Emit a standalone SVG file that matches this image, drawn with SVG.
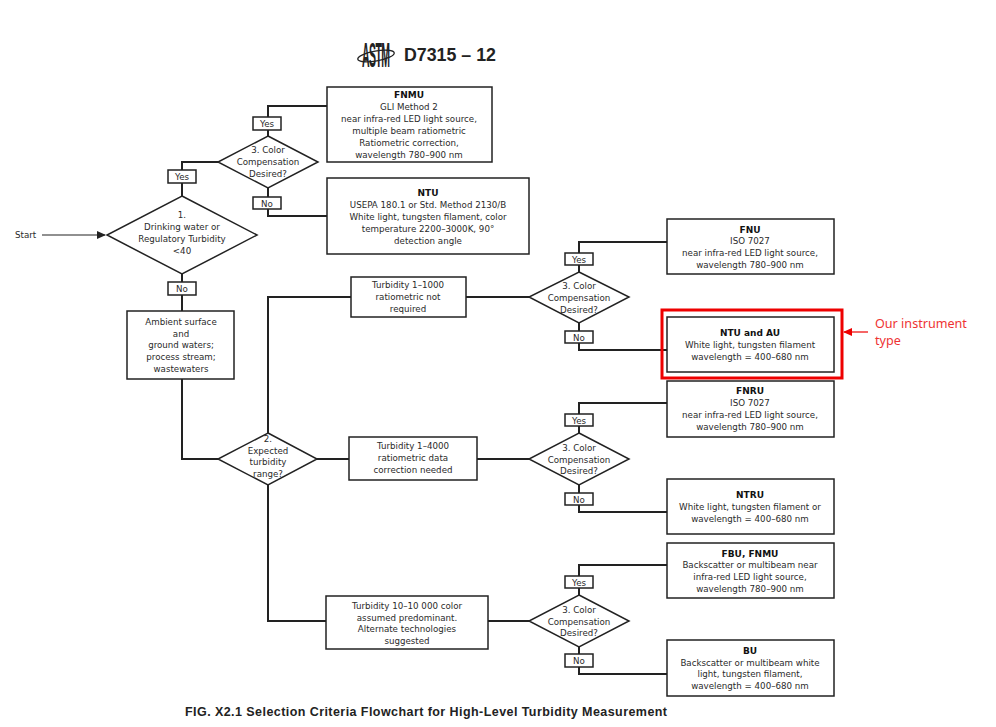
<svg xmlns="http://www.w3.org/2000/svg" width="996" height="727" viewBox="0 0 996 727">
<style>
.b{fill:#fff;stroke:#222;stroke-width:1.5}
.c{fill:none;stroke:#222;stroke-width:2}
.t{font-family:"DejaVu Sans",sans-serif;font-size:8.7px;fill:#2a2a2a;text-anchor:middle}
.h{font-family:"DejaVu Sans",sans-serif;font-size:9px;font-weight:700;fill:#111;text-anchor:middle}
</style>
<defs><marker id="a" markerWidth="9" markerHeight="8" refX="8" refY="4" orient="auto" markerUnits="userSpaceOnUse"><path d="M0 0L9 4L0 8z" fill="#222"/></marker>
<marker id="r" markerWidth="9" markerHeight="8" refX="8" refY="4" orient="auto" markerUnits="userSpaceOnUse"><path d="M0 0L9 4L0 8z" fill="#e00"/></marker></defs>
<rect width="996" height="727" fill="#fff"/>
<g id="header">
<text font-family="Liberation Sans,sans-serif" font-size="10.500" font-weight="700" text-anchor="middle" fill="#222" transform="translate(376 67) scale(1 3.4)" textLength="28">ASTM</text>
<ellipse cx="376" cy="56" rx="18.500" ry="5" fill="none" stroke="#222" stroke-width="1.300" transform="rotate(-10 376 56)"/>
<text x="404" y="61" font-family="Liberation Sans,sans-serif" font-size="17.800" font-weight="700" fill="#222">D7315 – 12</text>
</g>
<g id="connectors" class="c">
<path class="c" d="M218 162H182V196"/>
<path class="c" d="M268 136V106H327"/>
<path class="c" d="M268 188V216H327" />
<path class="c" d="M182 274V311"/>
<path class="c" d="M182 379V459H218"/>
<path class="c" d="M268 433V297H351"/>
<path class="c" d="M466 297H529"/>
<path class="c" d="M317 459H349"/>
<path class="c" d="M477 459H529"/>
<path class="c" d="M268 485V621H326"/>
<path class="c" d="M488 621H529"/>
<path class="c" d="M579 272V242H667"/>
<path class="c" d="M579 323V350H667"/>
<path class="c" d="M579 433V403H667"/>
<path class="c" d="M579 485V512H667"/>
<path class="c" d="M579 595V565H667"/>
<path class="c" d="M579 647V674H667"/>
<path d="M42 235H105" fill="none" stroke="#222" stroke-width="1.2" marker-end="url(#a)"/>
</g>
<g id="start"><text x="15" y="238" font-family="DejaVu Sans,sans-serif" font-size="8.7" fill="#2a2a2a">Start</text></g>
<g id="d1"><polygon class="b" points="182,196 257,235 182,274 107,235"/><text class="t" x="182" y="218">1.</text><text class="t" x="182" y="230">Drinking water or</text><text class="t" x="182" y="242">Regulatory Turbidity</text><text class="t" x="182" y="254">&lt;40</text></g>
<g id="yes1"><rect class="b" x="168" y="170" width="28" height="13"/><text class="t" x="182" y="180">Yes</text></g>
<g id="no1"><rect class="b" x="168" y="282" width="28" height="13"/><text class="t" x="182" y="292">No</text></g>
<g id="d3a"><polygon class="b" points="268,136 318,162 268,188 218,162"/><text class="t" x="268" y="153">3. Color</text><text class="t" x="268" y="165">Compensation</text><text class="t" x="268" y="177">Desired?</text></g>
<g id="yes3a"><rect class="b" x="253" y="117" width="28" height="13"/><text class="t" x="267" y="127">Yes</text></g>
<g id="no3a"><rect class="b" x="253" y="197" width="28" height="12"/><text class="t" x="267" y="207">No</text></g>
<g id="fnmu"><rect class="b" x="327" y="87" width="165" height="75"/><text class="h" x="409" y="98">FNMU</text><text class="t" x="409" y="110">GLI Method 2</text><text class="t" x="409" y="122">near infra-red LED light source,</text><text class="t" x="409" y="134">multiple beam ratiometric</text><text class="t" x="409" y="146">Ratiometric correction,</text><text class="t" x="409" y="157.500">wavelength 780–900 nm</text></g>
<g id="ntu"><rect class="b" x="327" y="178" width="202" height="76"/><text class="h" x="428" y="196">NTU</text><text class="t" x="428" y="208">USEPA 180.1 or Std. Method 2130/B</text><text class="t" x="428" y="220">White light, tungsten filament, color</text><text class="t" x="428" y="232">temperature 2200–3000K, 90°</text><text class="t" x="428" y="244">detection angle</text></g>
<g id="ambient"><rect class="b" x="127" y="311" width="107" height="68"/><text class="t" x="181" y="325">Ambient surface</text><text class="t" x="181" y="336.500">and</text><text class="t" x="181" y="348">ground waters;</text><text class="t" x="181" y="360">process stream;</text><text class="t" x="181" y="372">wastewaters</text></g>
<g id="d2"><polygon class="b" points="268,433 317,459 268,485 218,459"/><text class="t" x="268" y="442">2.</text><text class="t" x="268" y="453.500">Expected</text><text class="t" x="268" y="465">turbidity</text><text class="t" x="268" y="477">range?</text></g>
<g id="t1000"><rect class="b" x="351" y="277" width="115" height="40"/><text class="t" x="408" y="288">Turbidity 1–1000</text><text class="t" x="408" y="300">ratiometric not</text><text class="t" x="408" y="312">required</text></g>
<g id="t4000"><rect class="b" x="349" y="437" width="128" height="43"/><text class="t" x="413" y="449">Turbidity 1–4000</text><text class="t" x="413" y="461">ratiometric data</text><text class="t" x="413" y="473">correction needed</text></g>
<g id="t10000"><rect class="b" x="326" y="596" width="162" height="53"/><text class="t" x="407" y="609">Turbidity 10–10 000 color</text><text class="t" x="407" y="620.500">assumed predominant.</text><text class="t" x="407" y="632">Alternate technologies</text><text class="t" x="407" y="644">suggested</text></g>
<g id="d3b"><polygon class="b" points="579,272 629,297 579,323 529,297"/><text class="t" x="579" y="289">3. Color</text><text class="t" x="579" y="301">Compensation</text><text class="t" x="579" y="312.500">Desired?</text></g>
<g id="yes3b"><rect class="b" x="565" y="253" width="28" height="12"/><text class="t" x="579" y="262.500">Yes</text></g>
<g id="no3b"><rect class="b" x="565" y="331" width="28" height="12"/><text class="t" x="579" y="340.500">No</text></g>
<g id="fnu"><rect class="b" x="667" y="219" width="167" height="55"/><text class="h" x="750" y="232.500">FNU</text><text class="t" x="750" y="244">ISO 7027</text><text class="t" x="750" y="256">near infra-red LED light source,</text><text class="t" x="750" y="268">wavelength 780–900 nm</text></g>
<g id="ntuau"><rect class="b" x="667" y="317" width="167" height="55"/><text class="h" x="750" y="336">NTU and AU</text><text class="t" x="750" y="348">White light, tungsten filament</text><text class="t" x="750" y="360">wavelength = 400–680 nm</text></g>
<g id="highlight"><rect x="662" y="310" width="180" height="68" fill="none" stroke="#e00" stroke-width="3"/><path d="M868 332H844" fill="none" stroke="#e00" stroke-width="1.200" marker-end="url(#r)"/><text x="875" y="328" font-family="Noto Sans,sans-serif" font-size="12.600" fill="#e33">Our instrument</text><text x="875" y="345" font-family="Noto Sans,sans-serif" font-size="12.600" fill="#e33">type</text></g>
<g id="d3c"><polygon class="b" points="579,433 629,459 579,485 529,459"/><text class="t" x="579" y="451">3. Color</text><text class="t" x="579" y="462.500">Compensation</text><text class="t" x="579" y="474">Desired?</text></g>
<g id="yes3c"><rect class="b" x="565" y="414" width="28" height="12"/><text class="t" x="579" y="423.500">Yes</text></g>
<g id="no3c"><rect class="b" x="565" y="493" width="28" height="12"/><text class="t" x="579" y="502.500">No</text></g>
<g id="fnru"><rect class="b" x="667" y="381" width="167" height="56"/><text class="h" x="750" y="394">FNRU</text><text class="t" x="750" y="406">ISO 7027</text><text class="t" x="750" y="418">near infra-red LED light source,</text><text class="t" x="750" y="430">wavelength 780–900 nm</text></g>
<g id="ntru"><rect class="b" x="667" y="479" width="167" height="55"/><text class="h" x="750" y="498">NTRU</text><text class="t" x="750" y="510">White light, tungsten filament or</text><text class="t" x="750" y="521.500">wavelength = 400–680 nm</text></g>
<g id="d3d"><polygon class="b" points="579,595 629,621 579,647 529,621"/><text class="t" x="579" y="613">3. Color</text><text class="t" x="579" y="624.500">Compensation</text><text class="t" x="579" y="636">Desired?</text></g>
<g id="yes3d"><rect class="b" x="565" y="576" width="28" height="12"/><text class="t" x="579" y="585.500">Yes</text></g>
<g id="no3d"><rect class="b" x="565" y="654" width="28" height="13"/><text class="t" x="579" y="664">No</text></g>
<g id="fbu"><rect class="b" x="667" y="543" width="167" height="55"/><text class="h" x="750" y="556.500">FBU, FNMU</text><text class="t" x="750" y="568">Backscatter or multibeam near</text><text class="t" x="750" y="580">infra-red LED light source,</text><text class="t" x="750" y="592">wavelength 780–900 nm</text></g>
<g id="bu"><rect class="b" x="667" y="640" width="167" height="56"/><text class="h" x="750" y="654">BU</text><text class="t" x="750" y="665.500">Backscatter or multibeam white</text><text class="t" x="750" y="677">light, tungsten filament,</text><text class="t" x="750" y="689">wavelength = 400–680 nm</text></g>
<g id="caption"><text x="185" y="716" font-family="Liberation Sans,sans-serif" font-size="12.500" font-weight="700" fill="#222" textLength="482">FIG. X2.1 Selection Criteria Flowchart for High-Level Turbidity Measurement</text></g>
</svg>
